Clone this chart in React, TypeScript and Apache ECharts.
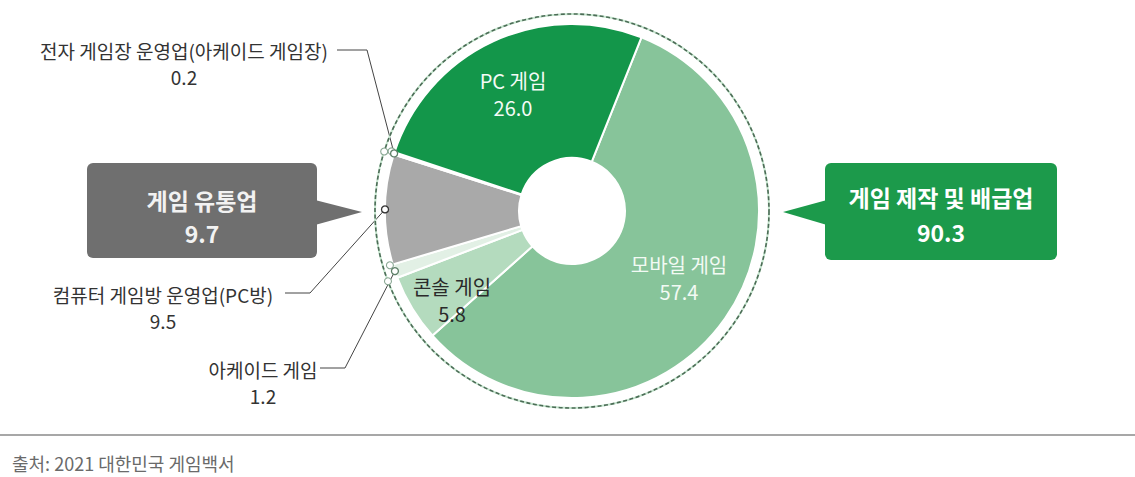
import React, { useEffect, useRef } from "react";
import * as echarts from "echarts";

// ---- data ----
const categories = [
  "모바일 게임",
  "콘솔 게임",
  "아케이드 게임",
  "컴퓨터 게임방 운영업(PC방)",
  "전자 게임장 운영업(아케이드 게임장)",
  "PC 게임",
];
const values = [57.4, 5.8, 1.2, 9.5, 0.2, 26.0];
const sliceColors = ["#87c49a", "#b4dbbe", "#e2f0e5", "#a9a9a9", "#efe4e8", "#13964a"];
const groupNames = ["게임 제작 및 배급업", "게임 유통업"];
const groupValues = [90.3, 9.7];
const sourceText = "출처: 2021 대한민국 게임백서";

// ---- layout ----
const W = 1135;
const H = 477;
const CX = 572;
const CY = 211;
const R0 = 53;
const R = 187;
const START_ANGLE = 68.2;
const FONT = '"Noto Sans CJK KR", "Noto Sans", sans-serif';

type Placement = { x: number; y: number; elbow?: number[]; end?: number[]; inside: boolean; color: string };
const placements: Placement[] = [
  { x: 679, y: 278, inside: true, color: "#f2faf4" },
  { x: 452, y: 300, inside: true, color: "#2a2a2a" },
  { x: 263, y: 382, inside: false, color: "#333", elbow: [345, 368], end: [320, 368] },
  { x: 163, y: 307, inside: false, color: "#333", elbow: [310, 293], end: [285, 293] },
  { x: 184, y: 63, inside: false, color: "#333", elbow: [367, 50], end: [337, 50] },
  { x: 513, y: 94, inside: true, color: "#f4fbf6" },
];

function sliceAngles() {
  const total = values.reduce((a, b) => a + b, 0);
  let acc = (-START_ANGLE * Math.PI) / 180;
  return values.map((v) => {
    const s = acc;
    const e = acc + (v / total) * Math.PI * 2;
    acc = e;
    return { s, e, m: (s + e) / 2 };
  });
}

function pt(angle: number, r: number) {
  return [CX + r * Math.cos(angle), CY + r * Math.sin(angle)];
}

export default function App() {
  const ref = useRef<HTMLDivElement>(null);
  useEffect(() => {
    if (!ref.current) return;
    const chart = echarts.init(ref.current, undefined, { renderer: "svg" });
    const angles = sliceAngles();

    const data = categories.map((name, i) => {
      const p = placements[i];
      return {
        name,
        value: values[i],
        itemStyle: { color: sliceColors[i] },
        label: {
          show: true,
          position: p.inside ? "inside" : "outside",
          color: p.color,
          fontSize: p.inside ? 20 : 19,
          lineHeight: p.inside ? 27 : 26,
          fontFamily: FONT,
          align: "center",
          formatter: (prm: any) => `${prm.name}\n${Number(prm.value).toFixed(1)}`,
        },
        labelLine: p.inside
          ? { show: false }
          : { show: true, lineStyle: { color: "#444", width: 1 } },
      };
    });

    const circles: any[] = [];
    [2, 3, 4].forEach((i) => {
      const a = pt(angles[i].m, R);
      circles.push({
        type: "circle",
        shape: { cx: a[0], cy: a[1], r: 3.5 },
        style: { fill: "#fff", stroke: i === 3 ? "#333" : "#5d7f67", lineWidth: 1.3 },
        z: 20,
      });
    });
    [2, 4].forEach((i) => {
      const b = pt(angles[i].s, R + 10);
      const c = pt(angles[i].e, R + 3);
      [b, c].forEach((q) =>
        circles.push({
          type: "circle",
          shape: { cx: q[0], cy: q[1], r: 3.5 },
          style: { fill: "#fff", stroke: "#8aa894", lineWidth: 1.1 },
          z: 19,
        })
      );
    });

    const txt = (
      text: string,
      x: number,
      y: number,
      size: number,
      fill: string,
      weight = "normal",
      align = "center",
      lineHeight?: number
    ) => ({
      type: "text",
      z: 30,
      style: {
        text,
        x,
        y,
        fill,
        fontSize: size,
        fontWeight: weight,
        fontFamily: FONT,
        lineHeight: lineHeight || Math.round(size * 1.3),
        align,
        textAlign: align,
        verticalAlign: "middle",
        textVerticalAlign: "middle",
      },
    });

    chart.setOption({
      animation: false,
      backgroundColor: "#ffffff",
      series: [
        {
          type: "pie",
          center: [CX, CY],
          radius: [R0, R],
          startAngle: START_ANGLE,
          clockwise: true,
          avoidLabelOverlap: false,
          data,
          itemStyle: { borderColor: "#ffffff", borderWidth: 2 },
          emphasis: { disabled: true },
          labelLayout: (params: any) => {
            const i = params.dataIndex;
            const p = placements[i];
            const out: any = { x: p.x, y: p.y, align: "center", verticalAlign: "middle" };
            if (!p.inside && p.elbow && p.end) {
              const anchor =
                params.labelLinePoints && params.labelLinePoints[0]
                  ? params.labelLinePoints[0]
                  : pt(angles[i].m, R);
              out.labelLinePoints = [anchor, p.elbow, p.end];
            }
            return out;
          },
        },
      ],
      graphic: [
        {
          type: "circle",
          shape: { cx: CX, cy: CY, r: R + 10 },
          style: { fill: "none", stroke: "#c6e6cf", lineWidth: 2 },
          silent: true,
          z: 5,
        },
        {
          type: "circle",
          shape: { cx: CX, cy: CY, r: R + 10 },
          style: { fill: "none", stroke: "#4d6c57", lineWidth: 1.6, lineDash: [4, 2.5] },
          silent: true,
          z: 6,
        },
        ...circles,
        // left callout (distribution)
        {
          type: "rect",
          shape: { x: 87, y: 163, width: 230, height: 95, r: 6 },
          style: { fill: "#6f6f6f" },
          z: 25,
        },
        {
          type: "polygon",
          shape: { points: [[315, 200], [362, 212], [315, 225]] },
          style: { fill: "#6f6f6f" },
          z: 25,
        },
        txt(`${groupNames[1]}\n${groupValues[1].toFixed(1)}`, 202, 216, 23, "#f2f2f2", "bold", "center", 33),
        // right callout (production & distribution)
        {
          type: "rect",
          shape: { x: 825, y: 163, width: 232, height: 97, r: 6 },
          style: { fill: "#1c9a4b" },
          z: 25,
        },
        {
          type: "polygon",
          shape: { points: [[827, 200], [783, 212], [827, 225]] },
          style: { fill: "#1c9a4b" },
          z: 25,
        },
        txt(`${groupNames[0]}\n${groupValues[0].toFixed(1)}`, 941, 214, 23, "#ffffff", "bold", "center", 35),
        // source line
        {
          type: "line",
          shape: { x1: 0, y1: 435, x2: W, y2: 435 },
          style: { stroke: "#8a8a8a", lineWidth: 1.5 },
          z: 25,
        },
        txt(sourceText, 12, 463, 18, "#6a6a6a", "normal", "left"),
      ],
    });

    return () => chart.dispose();
  }, []);

  return (
    <div
      ref={ref}
      style={{ position: "absolute", left: 0, top: 0, width: W, height: H, background: "#fff" }}
    />
  );
}
